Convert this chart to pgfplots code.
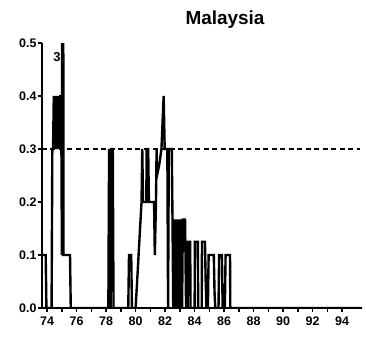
\documentclass[border=0pt]{standalone}
\usepackage{pgfplots}
\pgfplotsset{compat=1.18}
\usetikzlibrary{calc}
\usepackage{fontspec}
\setmainfont{Liberation Sans}
\begin{document}
\begin{tikzpicture}
\begin{axis}[
  name=ax,
  scale only axis,
  width=320bp, height=265bp,
  at={(0,0)}, anchor=south west,
  xmin=73.65, xmax=95.35,
  ymin=0, ymax=0.5,
  axis lines=left,
  axis line style={line width=2.6pt,-},
  xtick={74,76,...,94},
  xticklabels={74,76,78,80,82,84,86,88,90,92,94},
  minor x tick num=1,
  ytick={0,0.1,0.2,0.3,0.4,0.5},
  yticklabels={0.0,0.1,0.2,0.3,0.4,0.5},
  tick align=outside,
  major tick length=4bp, minor tick length=4bp,
  tick style={line width=1.6pt,black},
  ticklabel style={font=\fontsize{12.5}{14}\selectfont\bfseries},
  xticklabel style={yshift=-1bp},
  yticklabel style={xshift=2bp},
  clip=true,
]
\addplot[black, line width=2.4pt, line join=miter] coordinates {
(73.65,0.1)(73.9,0.1)(73.95,0)(74.3,0)(74.35,0.3)(74.4,0.3)(74.45,0.4)(74.52,0.3)(74.57,0.4)(74.63,0.3)(74.68,0.4)(74.74,0.3)(74.8,0.4)(74.86,0.3)(74.9,0.4)(74.95,0.4)
(75.0,0.1)(75.06,3)(75.1,0.1)(75.55,0.1)(75.6,0)
(78.15,0)(78.2,0.3)(78.3,0)(78.35,0.3)(78.45,0.3)(78.5,0)
(79.5,0)(79.55,0.1)(79.7,0.1)(79.75,0)
(80.0,0)(80.4,0.2)(80.45,0.3)(80.5,0.2)(80.72,0.2)(80.75,0.3)(80.85,0.3)(80.9,0.2)
(81.25,0.2)(81.3,0.1)(81.38,0.2)(81.42,0.3)(81.45,0.25)(81.6,0.27)(81.75,0.3)(81.9,0.4)(81.97,0.3)
(82.15,0.3)(82.2,0)(82.25,0.3)(82.45,0.3)(82.5,0.167)(82.55,0)(82.6,0.167)(82.65,0)(82.7,0.167)
(82.75,0)(82.8,0.167)(82.85,0)(82.9,0.167)(82.95,0)(83.0,0.167)(83.05,0)(83.1,0.167)(83.15,0)(83.2,0.167)(83.35,0.167)
(83.37,0.125)(83.42,0)(83.47,0.125)(83.52,0)(83.57,0.125)(83.7,0.125)(83.72,0)(84.0,0)(84.02,0.125)
(84.22,0.125)(84.24,0)(84.48,0)(84.5,0.125)(84.7,0.125)(84.75,0.05)(84.8,0)(84.85,0.05)(84.9,0)(84.95,0.1)
(85.3,0.1)(85.35,0.03)(85.4,0)(85.62,0)(85.66,0.1)(85.85,0.1)(85.9,0)(86.05,0)(86.1,0.1)(86.4,0.1)
(86.42,0)(95.35,0)
};
\addplot[black, line width=2pt, dash pattern=on 5bp off 3.5bp] coordinates {(73.65,0.3)(95.2,0.3)};
\node[font=\fontsize{13}{15}\selectfont\bfseries] at (axis cs:74.67,0.474) {3};
\end{axis}
\node[font=\fontsize{19}{22}\selectfont\bfseries] at ($(ax.north west)+(183bp,23bp)$) {Malaysia};
\path (ax.south west) ++(-42bp,-33bp) coordinate (bl);
\path (ax.north east) ++(4bp,43bp) coordinate (tr);
\path (bl) rectangle (tr);
\end{tikzpicture}
\end{document}
